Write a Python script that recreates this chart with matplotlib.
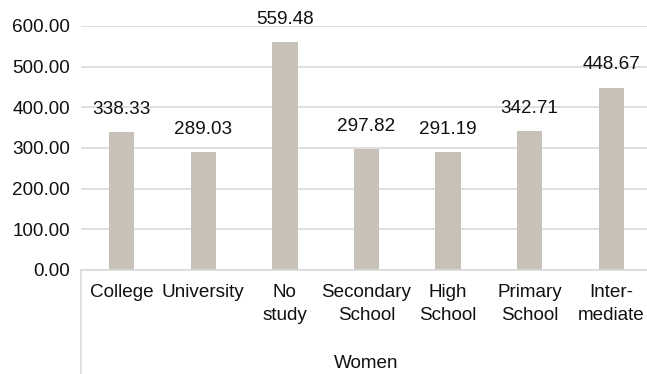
import matplotlib.pyplot as plt
from matplotlib.lines import Line2D
import numpy as np

plt.rcParams['font.family'] = ['Liberation Sans', 'DejaVu Sans']

categories = ["College", "University", "No\nstudy", "Secondary\nSchool",
              "High\nSchool", "Primary\nSchool", "Inter-\nmediate"]
values = [338.33, 289.03, 559.48, 297.82, 291.19, 342.71, 448.67]
group = "Women"
yticks = [0, 100, 200, 300, 400, 500, 600]

bar_color = "#c8c1b7"
grid_color = "#d9d9d9"
text_color = "#111111"
fs = 13.6

W, H = 647, 374
fig = plt.figure(figsize=(W / 100, H / 100), dpi=100)
# plot area in pixels: left 81, right 652, top 26, bottom 270
ax = fig.add_axes([81 / W, (H - 270) / H, (652 - 81) / W, (270 - 26) / H])

x = np.arange(len(categories))
ax.bar(x, values, width=0.31, color=bar_color, zorder=2)
ax.set_xlim(-0.5, len(categories) - 0.5)
ax.set_ylim(0, 600)

for xi, v in zip(x, values):
    ax.annotate(f"{v:.2f}", (xi, v), xytext=(0, 13), textcoords="offset points",
                ha="center", va="baseline", fontsize=fs, color=text_color,
                clip_on=False)

ax.set_yticks(yticks)
ax.set_yticklabels([f"{t:.2f}" for t in yticks])
ax.set_xticks(x)
ax.set_xticklabels(categories, linespacing=1.45)
ax.tick_params(axis="y", length=0, pad=8, labelsize=fs, labelcolor=text_color)
ax.tick_params(axis="x", length=0, pad=10, labelsize=fs, labelcolor=text_color)

ax.grid(axis="y", color=grid_color, linewidth=1.2, zorder=0)
for side in ["top", "right", "left"]:
    ax.spines[side].set_visible(False)
ax.spines["bottom"].set_color(grid_color)
ax.spines["bottom"].set_linewidth(1.2)
ax.spines["bottom"].set_zorder(3)

# group separator below the category axis
ax.add_line(Line2D([0, 0], [0, -0.45], transform=ax.transAxes,
                   color=grid_color, linewidth=1.2, clip_on=False))
ax.text(0.5, -0.382, group, transform=ax.transAxes, ha="center", va="center",
        fontsize=fs, color=text_color)

fig.savefig("out.png", dpi=100)
